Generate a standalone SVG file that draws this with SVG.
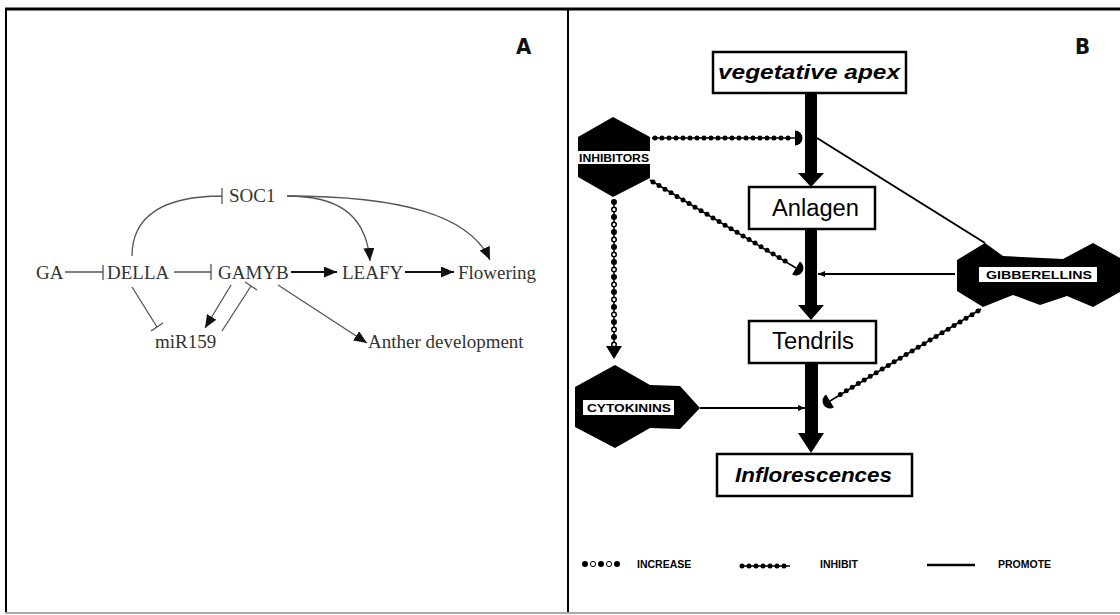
<svg xmlns="http://www.w3.org/2000/svg" width="1120" height="615" viewBox="0 0 1120 615">
<style>
.serif{font-family:"Liberation Serif","Times New Roman",serif;font-size:19px;fill:#333}
.lbl{font-family:"DejaVu Sans Condensed","Liberation Sans",sans-serif;font-weight:bold;font-size:22px;fill:#111}
.ga{stroke:#555;stroke-width:1.3;fill:none}
.gab{stroke:#111;stroke-width:2;fill:none}
.box{fill:#fff;stroke:#000;stroke-width:2.5}
.bi{font-family:"Liberation Sans",Arial,sans-serif;font-weight:bold;font-style:italic;font-size:20px;fill:#000}
.reg{font-family:"Liberation Sans",Arial,sans-serif;font-size:23px;fill:#000}
.tag{font-family:"Liberation Sans",Arial,sans-serif;font-weight:bold;font-size:10.5px;fill:#000}
.leg{font-family:"Liberation Sans",Arial,sans-serif;font-weight:bold;font-size:10.5px;fill:#000}
.prom{stroke:#000;stroke-width:2;fill:none}
.bead{stroke:#000;stroke-width:1.5;fill:none}
.beaddot{stroke:#000;stroke-width:5;stroke-linecap:round;stroke-dasharray:0 7;fill:none}
.blk{fill:#000}
</style>
<defs>
<marker id="arA" markerUnits="userSpaceOnUse" markerWidth="13" markerHeight="11" refX="13" refY="5.5" orient="auto">
<path d="M0,0 L13,5.5 L0,11 Z" fill="#111"/>
</marker>
<marker id="arS" markerUnits="userSpaceOnUse" markerWidth="7" markerHeight="6" refX="7" refY="3" orient="auto">
<path d="M0,0 L7,3 L0,6 Z" fill="#000"/>
</marker>
<marker id="cap" markerUnits="userSpaceOnUse" markerWidth="10" markerHeight="16" refX="1" refY="8" orient="auto" overflow="visible">
<path d="M1,0.5 A7.5,7.5 0 0 1 1,15.5 Z" fill="#000"/>
</marker>
</defs>

<!-- frame -->
<g id="frame">
<line x1="5" y1="9" x2="1120" y2="9" stroke="#000" stroke-width="3"/>
<line x1="6" y1="8" x2="6" y2="613" stroke="#000" stroke-width="2"/>
<line x1="568" y1="8" x2="568" y2="613" stroke="#000" stroke-width="2"/>
<line x1="5" y1="613" x2="1120" y2="613" stroke="#aaa" stroke-width="2"/>
</g>
<text class="lbl" x="516" y="54">A</text>
<text class="lbl" x="1075" y="54">B</text>

<!-- Panel A connectors -->
<g id="connectors-a">
<path class="ga" d="M65,272 H103 M103,265 V280"/>
<path class="ga" d="M174,272 H211 M211,264 V280"/>
<path class="gab" d="M291,272 H337" marker-end="url(#arA)"/>
<path class="gab" d="M405,272 H454" marker-end="url(#arA)"/>
<path class="ga" d="M132,256 C132,215 165,196 222,196 M222,188 V204"/>
<path class="ga" d="M287,196 C335,196 366,212 370,261" marker-end="url(#arA)"/>
<path class="ga" d="M287,196 C400,196 470,215 490,260" marker-end="url(#arA)"/>
<path class="ga" d="M231,285 L205,328" marker-end="url(#arA)"/>
<path class="ga" d="M222,331 L251,286 M245,282 L257,290"/>
<path class="ga" d="M132,287 L157,327 M151,331 L163,323"/>
<path class="ga" d="M278,285 L367,343" marker-end="url(#arA)"/>
</g>

<!-- Panel A nodes -->
<g id="n-ga"><text class="serif" x="36" y="279">GA</text></g>
<g id="n-della"><text class="serif" x="107" y="279">DELLA</text></g>
<g id="n-gamyb"><text class="serif" x="218" y="279">GAMYB</text></g>
<g id="n-leafy"><text class="serif" x="342" y="279">LEAFY</text></g>
<g id="n-flowering"><text class="serif" x="458" y="279">Flowering</text></g>
<g id="n-soc1"><text class="serif" x="229" y="202">SOC1</text></g>
<g id="n-mir159"><text class="serif" x="155" y="348">miR159</text></g>
<g id="n-anther"><text class="serif" x="368" y="348">Anther development</text></g>

<!-- Panel B connectors -->
<g id="connectors-b">
<path class="blk" d="M805,93 H817 V173 H824 L811,187 L798,173 H805 Z"/>
<path class="blk" d="M805,229 H817 V305 H824 L811,320 L798,305 H805 Z"/>
<path class="blk" d="M805,363 H818 V433 H824 L811,453 L798,433 H805 Z"/>
<path class="bead" d="M652,138 L795,138" marker-end="url(#cap)"/>
<path class="beaddot" d="M655,138 L792,138"/>
<path class="bead" d="M650,180 L796,268" marker-end="url(#cap)"/>
<path class="beaddot" d="M653,182 L790,264"/>
<path class="bead" d="M981,309 L830,401" marker-end="url(#cap)"/>
<path class="beaddot" d="M978,311 L836,397"/>
<path class="prom" d="M817,138 L985,243"/>
<path class="prom" d="M955,274 L818,274" marker-end="url(#arS)"/>
<path class="prom" d="M700,408 L805,408" marker-end="url(#arS)"/>
<path class="bead" d="M614,200 V347"/>
<path d="M614,202 V346" stroke="#000" stroke-width="6" stroke-linecap="round" stroke-dasharray="0 7.5" fill="none"/>
<path d="M614,209.5 V346" stroke="#fff" stroke-width="3" stroke-linecap="round" stroke-dasharray="0 15" fill="none"/>
<path class="blk" d="M606,346 L622,346 L614,359 Z"/>
</g>

<!-- Panel B nodes -->
<g id="n-vegapex">
<rect class="box" x="713" y="52" width="193" height="41"/>
<text class="bi" x="718" y="79" textLength="182" lengthAdjust="spacingAndGlyphs">vegetative apex</text>
</g>
<g id="n-anlagen">
<rect class="box" x="749" y="187" width="126" height="42"/>
<text class="reg" x="772" y="216" textLength="87" lengthAdjust="spacingAndGlyphs">Anlagen</text>
</g>
<g id="n-tendrils">
<rect class="box" x="749" y="321" width="127" height="42"/>
<text class="reg" x="772" y="349" textLength="82" lengthAdjust="spacingAndGlyphs">Tendrils</text>
</g>
<g id="n-inflor">
<rect class="box" x="717" y="454" width="195" height="42"/>
<text class="bi" x="735" y="482" textLength="157" lengthAdjust="spacingAndGlyphs">Inflorescences</text>
</g>
<g id="n-inhibitors">
<polygon class="blk" points="613,117 650,137 650,178 613,197 578,177 578,137"/>
<rect x="578" y="151" width="72" height="13" fill="#fff"/>
<text class="tag" x="614" y="161.5" text-anchor="middle" textLength="70" lengthAdjust="spacingAndGlyphs">INHIBITORS</text>
</g>
<g id="n-cytokinins">
<polygon class="blk" points="615,365 650,385 680,386 700,408 680,429 650,428 615,448 575,427 575,387"/>
<rect x="583" y="400" width="91" height="15" fill="#fff"/>
<text class="tag" x="629" y="412" text-anchor="middle" textLength="84" lengthAdjust="spacingAndGlyphs" font-size="11">CYTOKININS</text>
</g>
<g id="n-gibberellins">
<polygon class="blk" points="957,260 985,243 1003,256 1063,259 1093,243 1120,258 1120,292 1093,307 1067,296 1040,305 1013,295 983,307 957,291"/>
<rect x="979" y="267" width="118" height="15" fill="#fff"/>
<text class="tag" x="1039" y="279" text-anchor="middle" textLength="106" lengthAdjust="spacingAndGlyphs" font-size="11">GIBBERELLINS</text>
</g>

<!-- Legend -->
<g id="legend">
<circle cx="585" cy="564" r="3" fill="#000"/>
<circle cx="593" cy="564" r="2.6" fill="#fff" stroke="#000" stroke-width="1"/>
<circle cx="601" cy="564" r="3" fill="#000"/>
<circle cx="609" cy="564" r="2.6" fill="#fff" stroke="#000" stroke-width="1"/>
<circle cx="617" cy="564" r="3" fill="#000"/>
<text class="leg" x="637" y="568">INCREASE</text>
<path class="bead" d="M740,566 H790"/>
<path class="beaddot" d="M742,566 H790" stroke-dasharray="0 8"/>
<text class="leg" x="820" y="568">INHIBIT</text>
<path d="M927,565 H975" stroke="#000" stroke-width="2.5"/>
<text class="leg" x="998" y="568">PROMOTE</text>
</g>
</svg>
